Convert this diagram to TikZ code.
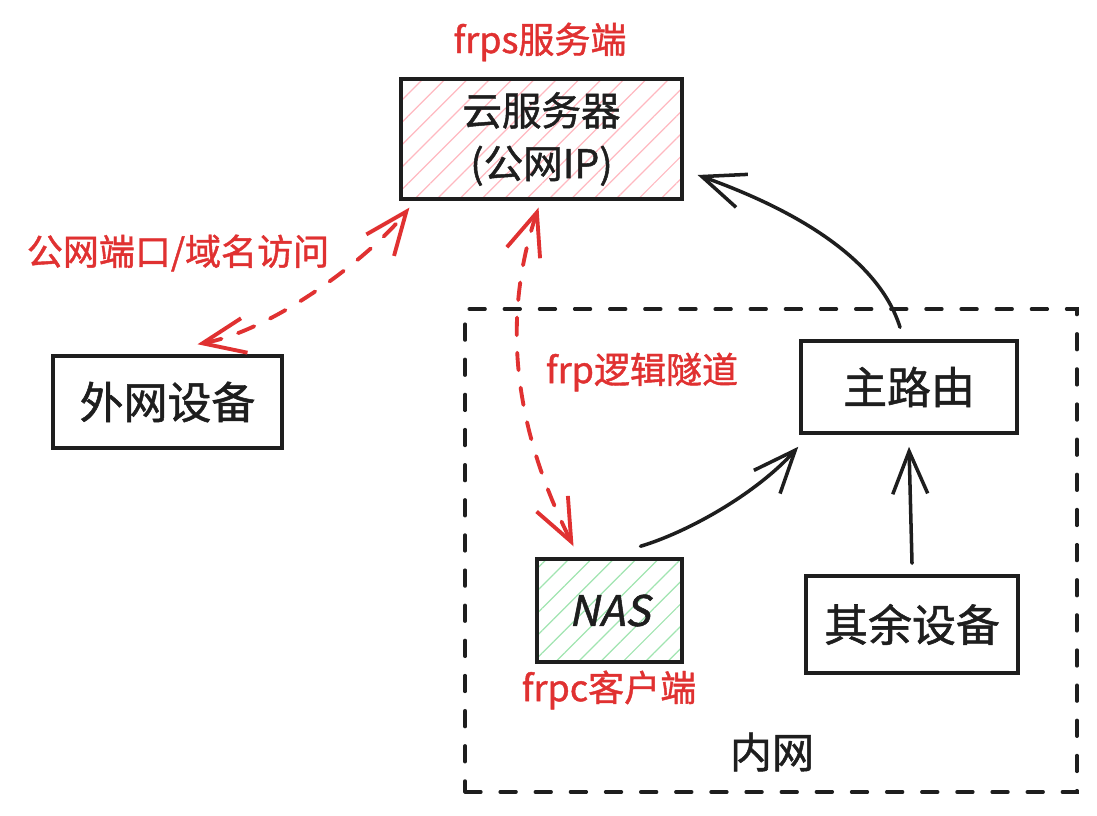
\documentclass[tikz,border=0pt]{standalone}
\usepackage{fontspec}
\setmainfont{Noto Sans CJK SC}[FakeBold=1.2]
\newfontfamily\nasfont[FakeSlant=0.2,FakeBold=1.2]{Noto Sans CJK SC}
\usepackage{tikz}
\usetikzlibrary{arrows.meta,calc,patterns.meta}
\definecolor{ink}{RGB}{30,30,30}
\definecolor{red}{RGB}{224,49,49}
\definecolor{hatchred}{RGB}{255,184,192}
\definecolor{hatchgreen}{RGB}{160,228,176}

\begin{document}
\begin{tikzpicture}[
    x=0.02cm, y=-0.02cm,
    box/.style={rectangle, draw=ink, line width=2pt, inner sep=0pt, align=center, text=ink, font=\fontsize{25}{30}\selectfont},
    server-box/.style={box, minimum width=5.62cm, minimum height=2.4cm, pattern={Lines[angle=45,distance=9pt,line width=0.7pt]}, pattern color=hatchred, font=\fontsize{22.5}{30}\selectfont},
    nas-box/.style={box, minimum width=2.9cm, minimum height=2.06cm, pattern={Lines[angle=45,distance=9pt,line width=0.7pt]}, pattern color=hatchgreen, font=\nasfont\fontsize{24}{30}\selectfont},
    lan-box/.style={rectangle, draw=ink, line width=2pt, line cap=round, dash pattern=on 9pt off 11pt, minimum width=12.24cm, minimum height=9.66cm, inner sep=0pt},
    note/.style={text=red, font=\fontsize{20.5}{24}\selectfont},
    lan-name/.style={text=ink, font=\fontsize{24}{28}\selectfont},
    link/.style={draw=ink, line width=2pt, line cap=round, -{Straight Barb[length=0.85cm,width=0.7cm]}},
    tunnel/.style={draw=red, line width=2.2pt, line cap=round, dash pattern=on 10pt off 10pt, {Straight Barb[length=0.85cm,width=0.7cm]}-{Straight Barb[length=0.85cm,width=0.7cm]}}
]
\useasboundingbox (0,0) rectangle (1097,815);

% Intranet frame
\node[lan-box] (lan) at (771,550.5) {};
\node[lan-name] (lanname) at (772,752) {内网};

% Devices
\node[server-box] (server) at (541.5,139) {云服务器\\(公网IP)};
\node[box, minimum width=4.58cm, minimum height=1.84cm] (outer) at (167.5,402) {外网设备};
\node[box, minimum width=4.32cm, minimum height=1.84cm] (router) at (909,387) {主路由};
\node[nas-box] (nas) at (609.5,610.5) {NAS};
\node[box, minimum width=4.24cm, minimum height=1.94cm] (rest) at (912,624.5) {其余设备};

% Annotations
\node[note] (frps) at (540,42) {frps服务端};
\node[note] (access) at (178,253) {公网端口/域名访问};
\node[note] (frp) at (642,372) {frp逻辑隧道};
\node[note] (frpc) at (609,690) {frpc客户端};

% Tunnels
\draw[tunnel] ($(outer.north)+(30,-10)$) .. controls +(80,-15) and +(-35,45) .. ($(server.south west)+(9,8)$);
\draw[tunnel] ($(server.south)+(-3,8)$) .. controls +(-40,120) and +(-55,-110) .. ($(nas.north)+(-36,-11)$);

% Traffic
\draw[link] ($(nas.north)+(31,-11)$) .. controls +(50,-15) and +(-40,45) .. ($(router.south west)+(-1,12)$);
\draw[link] ($(rest.north)+(0,-11)$) -- ($(router.south)+(0,12)$);
\draw[link] ($(router.north)+(-9,-12)$) .. controls +(-25,-80) and +(70,25) .. ($(server.east)+(15,36)$);

\end{tikzpicture}
\end{document}
